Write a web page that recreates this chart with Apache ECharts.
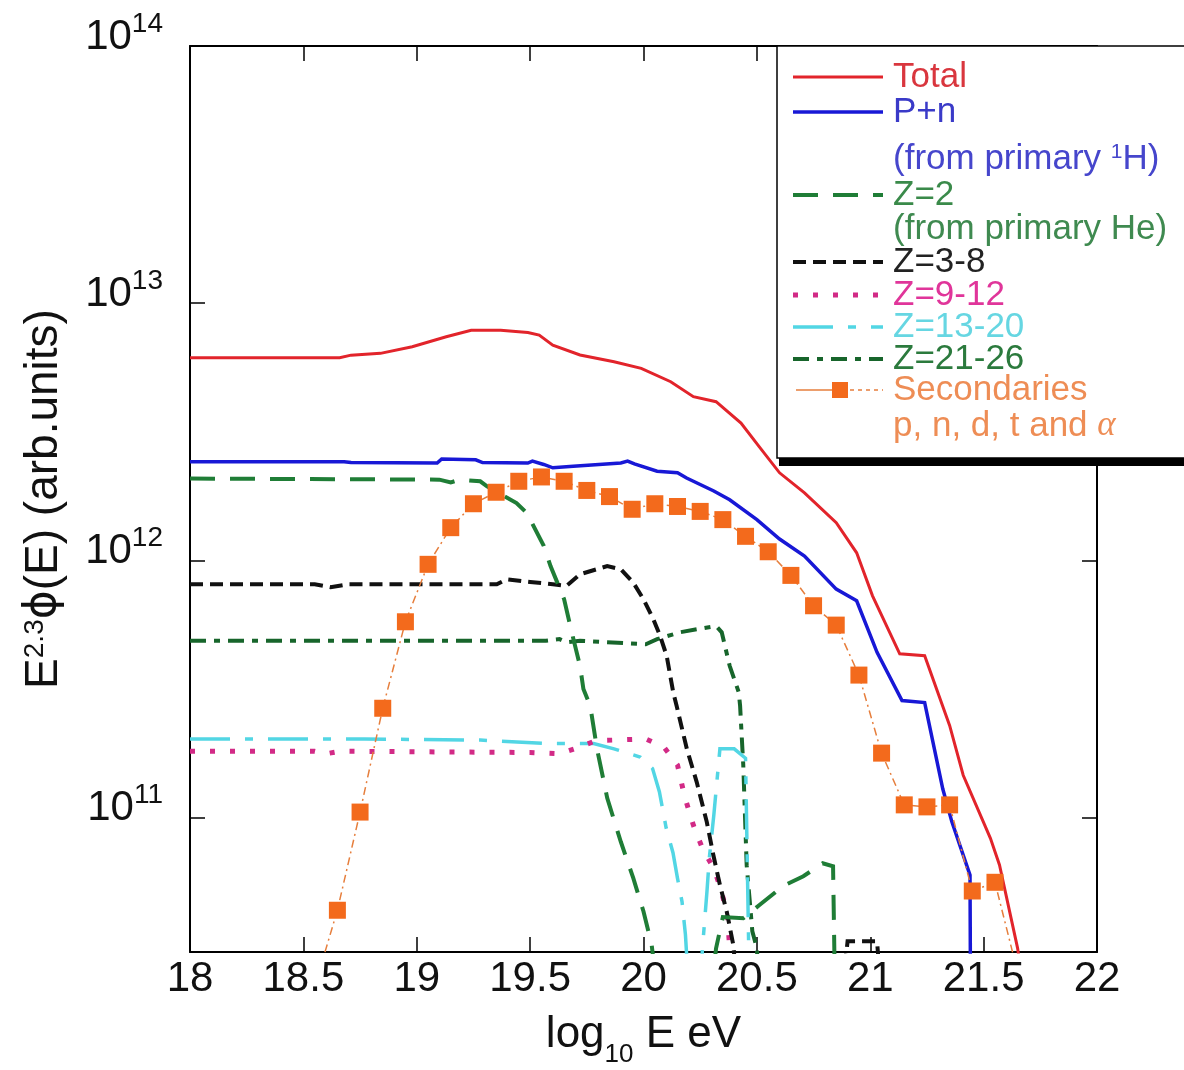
<!DOCTYPE html>
<html>
<head>
<meta charset="utf-8">
<script src="https://cdn.jsdelivr.net/npm/echarts@6/dist/echarts.min.js"></script>
<style>
  html, body { margin: 0; padding: 0; background: #fff; }
  #chart { width: 1184px; height: 1070px; }
</style>
</head>
<body>
<div id="chart"></div>
<script>
// Flux spectra E^2.3 * phi(E) versus log10(E/eV), one [logE, flux] pair per point.
const total = [
  [18.00, 6.14e12], [18.66, 6.14e12], [18.71, 6.28e12], [18.84, 6.38e12], [18.98, 6.77e12],
  [19.13, 7.40e12], [19.24, 7.85e12], [19.37, 7.85e12], [19.49, 7.69e12], [19.54, 7.51e12],
  [19.60, 6.87e12], [19.72, 6.29e12], [19.87, 5.92e12], [19.99, 5.58e12], [20.12, 4.95e12],
  [20.22, 4.33e12], [20.32, 4.14e12], [20.43, 3.42e12], [20.51, 2.77e12], [20.60, 2.19e12],
  [20.71, 1.83e12], [20.85, 1.40e12], [20.94, 1.07e12], [21.01, 7.28e11], [21.13, 4.33e11],
  [21.24, 4.26e11], [21.35, 2.28e11], [21.41, 1.46e11], [21.53, 8.30e10], [21.57, 6.54e10],
  [21.65, 3.10e10], [21.70, 1.50e10]
];
const protonNeutron = [
  [18.00, 2.42e12], [18.68, 2.42e12], [18.71, 2.40e12], [19.09, 2.39e12], [19.11, 2.48e12],
  [19.26, 2.46e12], [19.29, 2.40e12], [19.49, 2.39e12], [19.51, 2.43e12], [19.56, 2.36e12],
  [19.60, 2.29e12], [19.69, 2.32e12], [19.90, 2.39e12], [19.93, 2.43e12], [19.96, 2.37e12],
  [20.06, 2.22e12], [20.15, 2.19e12], [20.19, 2.09e12], [20.31, 1.86e12], [20.38, 1.72e12],
  [20.50, 1.44e12], [20.60, 1.21e12], [20.71, 1.04e12], [20.85, 7.73e11], [20.94, 6.96e11],
  [21.03, 4.39e11], [21.14, 2.85e11], [21.24, 2.80e11], [21.32, 1.29e11], [21.36, 9.62e10],
  [21.44, 5.97e10], [21.445, 5.0e9]
];
const helium = [
  [18.00, 2.08e12], [19.10, 2.06e12], [19.15, 2.01e12], [19.19, 2.06e12], [19.28, 2.03e12],
  [19.31, 1.94e12], [19.44, 1.67e12], [19.485, 1.53e12], [19.56, 1.14e12], [19.59, 9.50e11],
  [19.65, 7.06e11], [19.68, 5.41e11], [19.72, 3.89e11], [19.735, 3.16e11], [19.765, 2.72e11],
  [19.795, 1.85e11], [19.84, 1.19e11], [19.90, 8.05e10], [19.955, 5.81e10], [20.00, 4.31e10],
  [20.036, 3.20e10], [20.08, 1.5e10], [20.28, 1.5e10], [20.32, 3.10e10], [20.35, 4.10e10],
  [20.44, 4.06e10], [20.51, 4.56e10], [20.615, 5.41e10], [20.705, 5.91e10], [20.79, 6.64e10],
  [20.836, 6.46e10], [20.85, 1.0e10]
];
const z3to8 = [
  [18.00, 8.07e11], [18.55, 8.07e11], [18.62, 7.86e11], [18.70, 8.07e11], [19.353, 8.07e11],
  [19.397, 8.44e11], [19.50, 8.24e11], [19.60, 8.07e11], [19.66, 7.95e11], [19.72, 8.83e11],
  [19.84, 9.50e11], [19.90, 9.23e11], [19.955, 8.19e11], [20.00, 7.06e11], [20.043, 5.91e11],
  [20.073, 5.09e11], [20.102, 4.26e11], [20.131, 3.07e11], [20.146, 2.72e11], [20.191, 1.85e11],
  [20.235, 1.37e11], [20.279, 9.62e10], [20.308, 7.15e10], [20.337, 5.47e10], [20.367, 4.31e10],
  [20.396, 3.20e10], [20.43, 1.5e10], [20.86, 1.5e10], [20.90, 3.3e10], [21.03, 3.3e10],
  [21.06, 1.5e10]
];
const z9to12 = [
  [18.00, 1.81e11], [18.55, 1.81e11], [18.60, 1.77e11], [18.66, 1.81e11], [19.50, 1.79e11],
  [19.63, 1.77e11], [19.72, 1.88e11], [19.79, 1.99e11], [20.01, 2.02e11], [20.09, 1.88e11],
  [20.15, 1.60e11], [20.18, 1.22e11], [20.22, 9.33e10], [20.26, 7.58e10], [20.31, 6.34e10],
  [20.34, 5.31e10], [20.37, 4.18e10], [20.38, 3.10e10], [20.41, 1.5e10]
];
const z13to20 = [
  [18.00, 2.02e11], [18.77, 2.02e11], [19.28, 2.00e11], [19.57, 1.94e11], [19.78, 1.94e11],
  [19.87, 1.85e11], [19.985, 1.72e11], [20.04, 1.55e11], [20.07, 1.26e11], [20.10, 9.1e10],
  [20.13, 7.3e10], [20.15, 5.8e10], [20.17, 4.7e10], [20.185, 3.5e10], [20.21, 1.5e10],
  [20.24, 1.5e10], [20.26, 3.1e10], [20.28, 5.17e10], [20.29, 6.93e10], [20.31, 1.02e11],
  [20.337, 1.85e11], [20.40, 1.85e11], [20.45, 1.70e11], [20.47, 1.5e10]
];
const z21to26 = [
  [18.00, 4.87e11], [19.57, 4.87e11], [19.63, 4.94e11], [19.66, 4.80e11], [19.72, 4.87e11],
  [20.01, 4.72e11], [20.06, 4.94e11], [20.16, 5.25e11], [20.32, 5.56e11], [20.345, 5.25e11],
  [20.38, 3.89e11], [20.42, 3.07e11], [20.426, 2.72e11], [20.44, 1.60e11], [20.455, 6.53e10],
  [20.48, 3.61e10], [20.50, 3.10e10], [20.52, 1.5e10]
];
const secondaryEnergy = [
  18.55, 18.65, 18.75, 18.85, 18.95, 19.05, 19.15, 19.25, 19.35, 19.45, 19.55,
  19.65, 19.75, 19.85, 19.95, 20.05, 20.15, 20.25, 20.35, 20.45, 20.55,
  20.65, 20.75, 20.85, 20.95, 21.05, 21.15, 21.25, 21.35, 21.45, 21.55, 21.65
];
const secondaryFlux = [
  2.2e10, 4.36e10, 1.05e11, 2.66e11, 5.77e11, 9.65e11, 1.34e12, 1.66e12, 1.84e12, 2.03e12, 2.11e12,
  2.03e12, 1.87e12, 1.77e12, 1.58e12, 1.66e12, 1.62e12, 1.55e12, 1.44e12, 1.24e12, 1.08e12,
  8.74e11, 6.66e11, 5.60e11, 3.58e11, 1.78e11, 1.12e11, 1.10e11, 1.12e11, 5.18e10, 5.60e10, 2.5e10
];
const yDecades = [11, 12, 13, 14];

const FONT = '"Liberation Sans", Arimo, Arial, Helvetica, sans-serif';
const C = {
  total: '#e2242b', pn: '#1818d6', he: '#1f7d36', z38: '#111111',
  z912: '#d22a86', z1320: '#52d6e4', z2126: '#17652b',
  secMarker: '#f36a1c', secLine: '#e67e3c'
};

function curve(name, data, color, width, dash, z) {
  return {
    name, type: 'line', data, symbol: 'none', showSymbol: false, clip: true, z,
    lineStyle: { color, width, type: dash, cap: 'butt', join: 'miter' },
    emphasis: { disabled: true }, silent: true
  };
}

const secondaries = secondaryEnergy.map((e, i) => [e, secondaryFlux[i]]);

const axisLineStyle = { show: true, onZero: false, lineStyle: { color: '#000', width: 2 } };
const tickStyle = { show: true, inside: true, length: 15, lineStyle: { color: '#000', width: 1.5 } };

function decadeLabel(v) {
  const p = Math.log10(v), r = Math.round(p);
  if (Math.abs(p - r) > 1e-6 || !yDecades.includes(r)) return '';
  return '{b|10}{sup|' + r + '}';
}

// Legend drawn as a framed box in the upper right corner
const LX1 = 793, LX2 = 883, TX = 893;
const legendFont = '35px ' + FONT;
function legLine(y, color, width, dash) {
  return { type: 'line', z: 101, silent: true,
    shape: { x1: LX1, y1: y, x2: LX2, y2: y },
    style: { stroke: color, lineWidth: width, lineDash: dash || null, lineCap: 'butt' } };
}
function legText(y, text, color, rich) {
  return { type: 'text', z: 101, silent: true,
    style: { x: TX, y, text, fill: color, font: legendFont, verticalAlign: 'middle', align: 'left', rich: rich || undefined } };
}

const legendElements = [
  { type: 'rect', z: 100, silent: true, shape: { x: 779, y: 457, width: 420, height: 9 }, style: { fill: '#000' } },
  { type: 'rect', z: 100, silent: true, shape: { x: 777, y: 46, width: 420, height: 412 }, style: { fill: '#fff', stroke: '#000', lineWidth: 1.5 } },
  legLine(77, C.total, 3),
  legText(77, 'Total', '#d9363e'),
  legLine(112, C.pn, 3.5),
  legText(112, 'P+n', '#3a3ac8'),
  legText(159, '(from primary {s|1}H)', '#4646cc', {
    s: { fontSize: 21, fontFamily: FONT, fill: '#4646cc', verticalAlign: 'top', lineHeight: 20 }
  }),
  legLine(195, C.he, 4, [25, 15]),
  legText(195, 'Z=2', '#3a8a4a'),
  legText(229, '(from primary He)', '#3f8a50'),
  legLine(262, C.z38, 4, [13, 7]),
  legText(262, 'Z=3-8', '#222222'),
  legLine(295, C.z912, 5, [5, 15]),
  legText(295, 'Z=9-12', '#e0359a'),
  legLine(327, C.z1320, 3.5, [40, 15, 8, 15]),
  legText(327, 'Z=13-20', '#66d6e2'),
  legLine(359, C.z2126, 4, [16, 8, 6, 8]),
  legText(359, 'Z=21-26', '#2b7a3d'),
  { type: 'line', z: 101, silent: true, shape: { x1: 796, y1: 390, x2: 834, y2: 390 }, style: { stroke: C.secLine, lineWidth: 1.5 } },
  { type: 'rect', z: 102, silent: true, shape: { x: 832, y: 382, width: 16, height: 16 }, style: { fill: C.secMarker } },
  { type: 'line', z: 101, silent: true, shape: { x1: 850, y1: 390, x2: 883, y2: 390 }, style: { stroke: C.secLine, lineWidth: 1.5, lineDash: [4, 4] } },
  legText(390, 'Secondaries', '#ee8d55'),
  legText(426, 'p, n, d, t and {a|α}', '#ee8d55', {
    a: { fontSize: 35, fontFamily: '"Liberation Serif", "DejaVu Serif", serif', fontStyle: 'italic', fill: '#ee8d55' }
  })
];

const option = {
  animation: false,
  backgroundColor: '#ffffff',
  grid: { left: 190, right: 87, top: 46, bottom: 118, containLabel: false, outerBoundsMode: 'none' },
  xAxis: [
    {
      type: 'value', min: 18, max: 22, interval: 0.5, position: 'bottom',
      name: 'log{sub|10} E eV', nameLocation: 'middle', nameGap: 61,
      nameTextStyle: {
        fontFamily: FONT, fontSize: 44, color: '#111', lineHeight: 44, verticalAlign: 'top',
        rich: {
          sub: { fontFamily: FONT, fontSize: 26, color: '#111', lineHeight: 26, verticalAlign: 'top', padding: [29, 0, 0, 0] }
        }
      },
      axisLine: axisLineStyle, axisTick: tickStyle, splitLine: { show: false },
      axisLabel: { fontFamily: FONT, fontSize: 42, color: '#111', margin: 6,
        formatter: v => String(+v.toFixed(1)) }
    },
    {
      type: 'value', min: 18, max: 22, interval: 0.5, position: 'top',
      axisLine: axisLineStyle, axisTick: tickStyle, splitLine: { show: false },
      axisLabel: { show: false }
    }
  ],
  yAxis: [
    {
      type: 'log', logBase: 10, min: 3e10, max: 1e14, position: 'left',
      name: 'E{sup|2.3}{phi|ϕ}(E) (arb.units)', nameLocation: 'middle', nameRotate: 90, nameGap: 123,
      nameTextStyle: {
        fontFamily: FONT, fontSize: 46, color: '#111', lineHeight: 46,
        rich: {
          sup: { fontFamily: FONT, fontSize: 28, color: '#111', lineHeight: 28, verticalAlign: 'top' },
          phi: { fontFamily: '"DejaVu Sans", ' + FONT, fontSize: 44, color: '#111', lineHeight: 46 }
        }
      },
      axisLine: axisLineStyle, axisTick: tickStyle, splitLine: { show: false }, minorTick: { show: false },
      axisLabel: {
        margin: 27, formatter: decadeLabel, padding: [0, 0, 24, 0],
        rich: {
          b: { fontFamily: FONT, fontSize: 42, color: '#111', lineHeight: 48, verticalAlign: 'bottom' },
          sup: { fontFamily: FONT, fontSize: 28, color: '#111', lineHeight: 28, verticalAlign: 'top' }
        }
      }
    },
    {
      type: 'log', logBase: 10, min: 3e10, max: 1e14, position: 'right',
      axisLine: axisLineStyle, axisTick: tickStyle, splitLine: { show: false }, minorTick: { show: false },
      axisLabel: { show: false }
    }
  ],
  series: [
    curve('Z=21-26', z21to26, C.z2126, 4, [16, 8, 6, 8], 3),
    curve('Z=13-20', z13to20, C.z1320, 3.5, [40, 15, 8, 15], 3),
    curve('Z=9-12', z9to12, C.z912, 5, [5, 15], 3),
    curve('Z=3-8', z3to8, C.z38, 4, [13, 7], 4),
    curve('Z=2', helium, C.he, 4, [25, 15], 4),
    curve('P+n', protonNeutron, C.pn, 3.5, 'solid', 5),
    curve('Total', total, C.total, 3, 'solid', 5),
    {
      name: 'Secondaries', type: 'line', data: secondaries, clip: true, z: 6,
      symbol: 'rect', symbolSize: 17, showSymbol: true,
      itemStyle: { color: C.secMarker, borderWidth: 0 },
      lineStyle: { color: C.secLine, width: 1.5, type: [8, 4, 2, 4] },
      emphasis: { disabled: true }, silent: true
    }
  ],
  graphic: { elements: legendElements }
};

const chart = echarts.init(document.getElementById('chart'), null, { renderer: 'canvas' });
chart.setOption(option);
</script>
</body>
</html>
